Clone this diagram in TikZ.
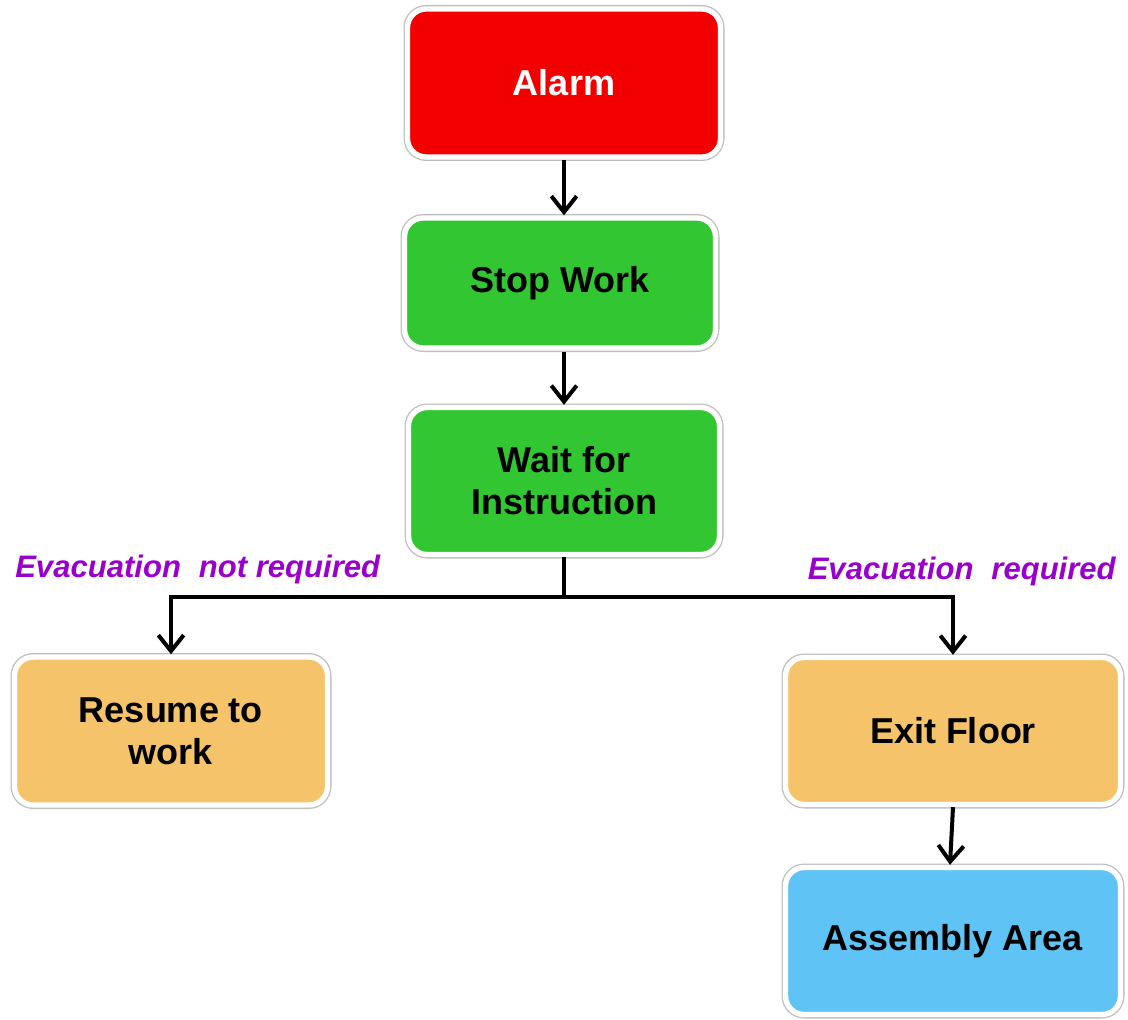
\documentclass[tikz,border=0pt]{standalone}
\usepackage{fontspec}
\setmainfont{Liberation Sans}
\usetikzlibrary{arrows.meta}
\definecolor{cred}{RGB}{242,0,0}
\definecolor{cgreen}{RGB}{51,198,51}
\definecolor{corange}{RGB}{245,196,106}
\definecolor{cblue}{RGB}{95,196,245}
\definecolor{cpurple}{RGB}{153,0,204}
\begin{document}
\begin{tikzpicture}[x=0.75pt,y=-0.75pt,
  box/.style={rounded corners=14pt, preaction={draw=black!25, line width=6pt},
    draw=white, line width=4pt, align=center, inner sep=0pt,
    font=\bfseries\fontsize{27}{31.5}\selectfont},
  conn/.style={line width=3pt, -{Straight Barb[length=12pt,width=19pt,line width=3pt]}},
  lab/.style={text=cpurple, font=\bfseries\itshape\fontsize{23.3}{27}\selectfont, inner sep=0pt}
]
\useasboundingbox (0,0) rectangle (1128,1020);
\node[box, fill=cred, text=white, minimum width=313*0.75pt, minimum height=148*0.75pt] (alarm) at (564,83) {Alarm};
\node[box, fill=cgreen, minimum width=311*0.75pt, minimum height=130*0.75pt] (stop) at (560,283) {Stop Work};
\node[box, fill=cgreen, minimum width=311*0.75pt, minimum height=147*0.75pt] (wait) at (564,481) {Wait for\\Instruction};
\node[box, fill=corange, minimum width=313*0.75pt, minimum height=148*0.75pt] (resume) at (171,731) {Resume to\\work};
\node[box, fill=corange, minimum width=335*0.75pt, minimum height=147*0.75pt] (exit) at (953,731) {Exit Floor};
\node[box, fill=cblue, minimum width=335*0.75pt, minimum height=147*0.75pt] (assembly) at (953,941) {Assembly Area};

\node[lab, anchor=west] (lnot) at (15,569) {Evacuation\hspace{0.3em} not required};
\node[lab, anchor=east] (lyes) at (1116,571) {Evacuation\hspace{0.3em} required};

\coordinate (split) at (564,597);
\coordinate (s1) at (564,352);
\coordinate (e1) at (950,0);
\draw[conn] (alarm.south) -- (alarm.south |- stop.north);
\draw[conn] (s1) -- (s1 |- wait.north);
\draw[line width=3pt] (wait.south) -- (split);
\draw[conn] (split) -| (resume.north);
\draw[conn] (split) -| (exit.north);
\draw[conn] (exit.south) -- (e1 |- assembly.north);
\end{tikzpicture}
\end{document}
